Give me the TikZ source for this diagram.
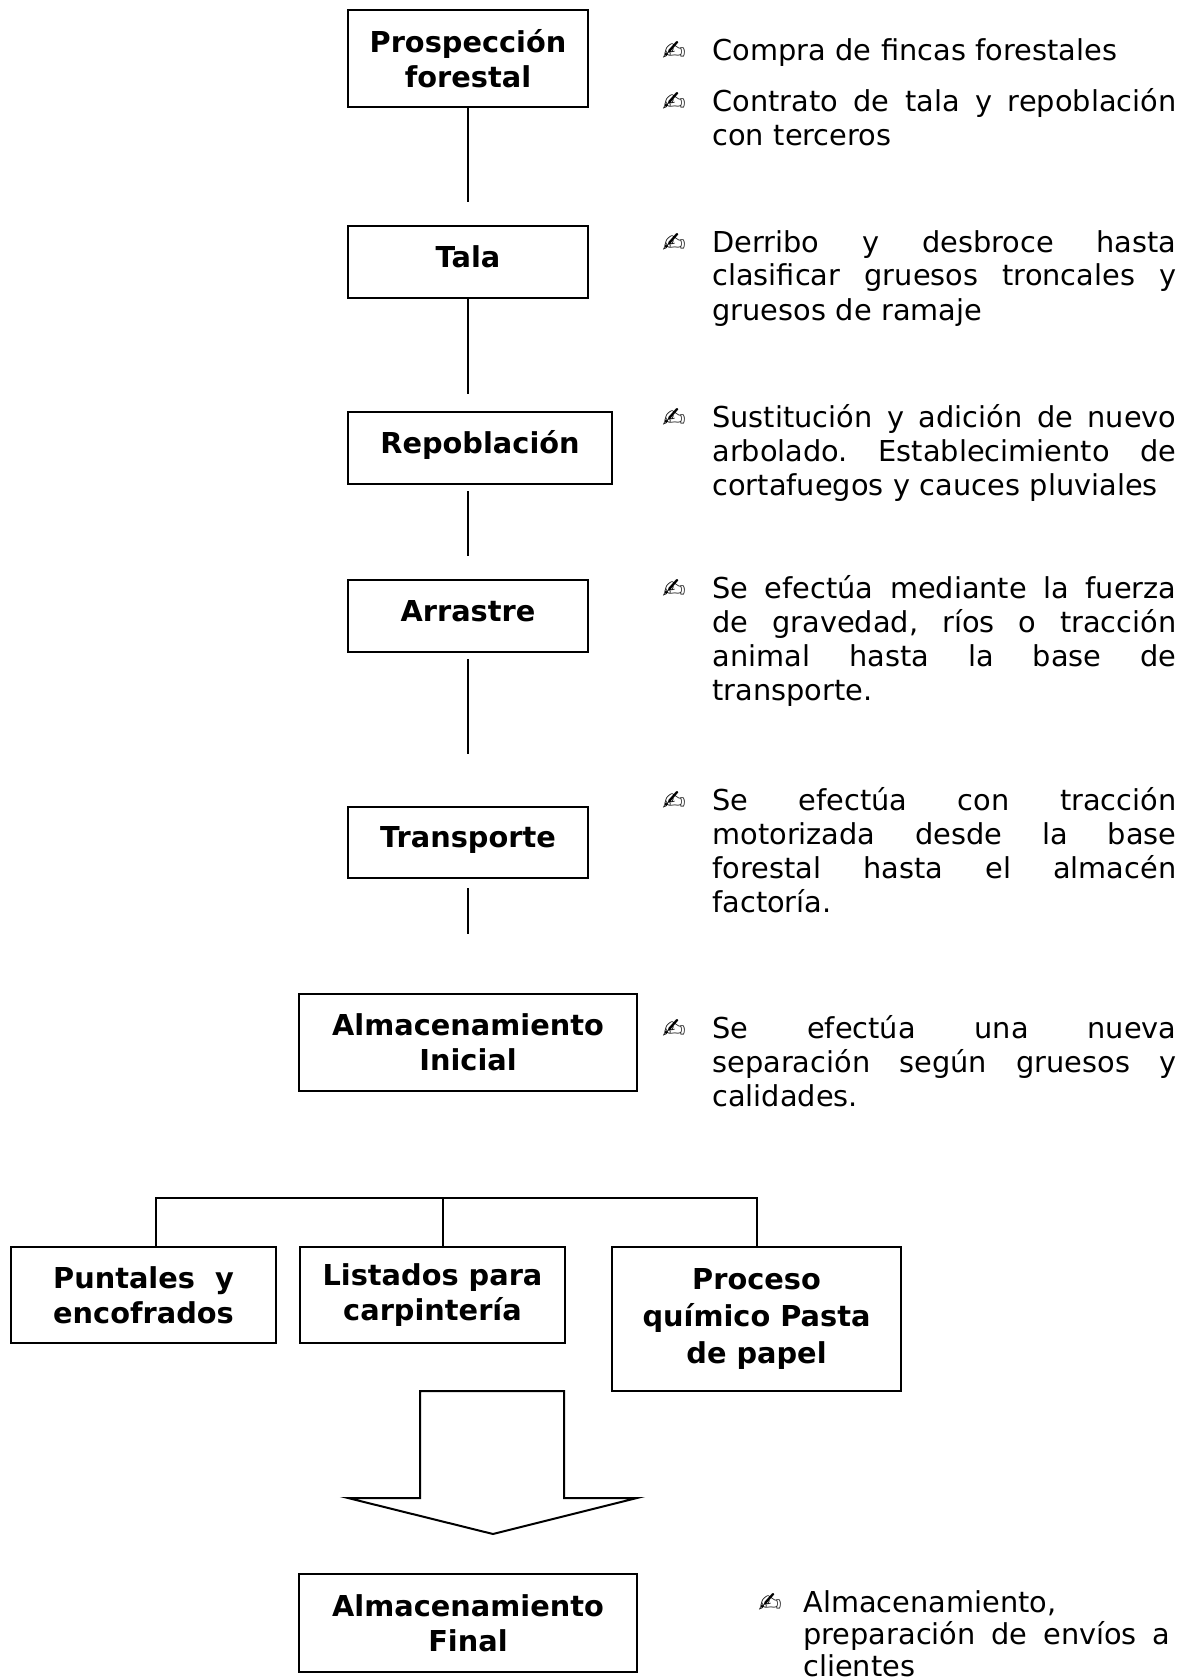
\documentclass[tikz,border=0pt]{standalone}
\usepackage{fontspec}
\setmainfont{DejaVu Sans}
\frenchspacing
\newcommand\jl[1]{\makebox[232pt][s]{\spaceskip=0pt\xspaceskip=0pt\relax #1}}
\newcommand\jlb[1]{\makebox[183.5pt][s]{\spaceskip=0pt\xspaceskip=0pt\relax #1}}
\tikzset{
  box/.style={draw, line width=1pt, fill=white, align=center, inner sep=0pt,
    font=\fontsize{14.4pt}{17.5pt}\bfseries\selectfont},
  onebox/.style={box, minimum width=120pt, minimum height=36pt, text height=11pt, text depth=6pt},
  desc/.style={anchor=base west, text width=232pt, align=left, inner sep=0pt,
    font=\fontsize{14.4pt}{17pt}\selectfont},
  descb/.style={desc, text width=183.5pt, font=\fontsize{14.4pt}{16.1pt}\selectfont},
  bul/.style={anchor=base, inner sep=0pt, font=\fontsize{14pt}{15pt}\selectfont},
  conn/.style={line width=0.9pt},
}
\begin{document}
\begin{tikzpicture}[x=0.5pt, y=-0.5pt]
\useasboundingbox (0,0) rectangle (1189,1680);

% process boxes
\node[box, minimum width=120pt, minimum height=48.5pt] (p1) at (468,58.5) {Prospección\\forestal};
\node[onebox] (tala) at (468,262) {Tala};
\node[onebox, minimum width=132pt] (repo) at (480,448) {Repoblación};
\node[onebox] (arr) at (468,616) {Arrastre};
\node[onebox, minimum height=35.5pt] (trans) at (468,842.5) {Transporte};
\node[box, minimum width=169pt, minimum height=48.5pt] (almi) at (468,1042.5) {Almacenamiento\\Inicial};
\node[box, minimum width=132.5pt, minimum height=48pt] (punt) at (143.5,1295) {Puntales\ \ y\\encofrados};
\node[box, minimum width=132.5pt, minimum height=48pt] (list) at (432.5,1295) {Listados para\\carpintería};
\node[box, minimum width=144.5pt, minimum height=72pt] (proc) at (756.5,1319) {Proceso\\[1pt]químico Pasta\\[1pt]de papel};
\node[box, minimum width=169pt, minimum height=49pt] (almf) at (468,1623) {Almacenamiento\\Final};

% connectors
\draw[conn, shorten >=11.5pt] (p1.south) -- (tala.north);
\draw[conn, shorten >=8.5pt] (tala.south) -- (tala.south |- repo.north);
\draw[conn, shorten <=3pt, shorten >=11.5pt] (arr.north |- repo.south) -- (arr.north);
\draw[conn, shorten <=3pt, shorten >=26pt] (arr.south) -- (trans.north);
\draw[conn, shorten <=4.5pt, shorten >=29.5pt] (trans.south) -- (almi.north);

% branch
\coordinate (bl) at (156,1198);
\coordinate (bm) at (443,1198);
\coordinate (br) at (757,1198);
\draw[conn] (bl |- punt.north) -- (bl) -- (br) -- (br |- proc.north);
\draw[conn] (bm) -- (bm |- list.north);

% big block arrow
\draw[line width=1pt, fill=white] (420,1391) -- (564,1391) -- (564,1498) -- (637,1498)
  -- (493,1534) -- (348,1498) -- (420,1498) -- cycle;

% descriptions
\node[bul] (b1) at (674,61) {✍};
\node[desc] (t1) at (712,61) {Compra de fincas forestales};
\node[bul] (b2) at (674,112) {✍};
\node[desc] (t2) at (712,112) {\jl{Contrato de tala y repoblación}\\con terceros};
\node[bul] (b3) at (674,252) {✍};
\node[desc] (t3) at (712,252) {\jl{Derribo y desbroce hasta}\\\jl{clasificar gruesos troncales y}\\gruesos de ramaje};
\node[bul] (b4) at (674,427) {✍};
\node[desc] (t4) at (712,427) {\jl{Sustitución y adición de nuevo}\\\jl{arbolado. Establecimiento de}\\cortafuegos y cauces pluviales};
\node[bul] (b5) at (674,598) {✍};
\node[desc] (t5) at (712,598) {\jl{Se efectúa mediante la fuerza}\\\jl{de gravedad, ríos o tracción}\\\jl{animal hasta la base de}\\transporte.};
\node[bul] (b6) at (674,810) {✍};
\node[desc] (t6) at (712,810) {\jl{Se efectúa con tracción}\\\jl{motorizada desde la base}\\\jl{forestal hasta el almacén}\\factoría.};
\node[bul] (b7) at (674,1038) {✍};
\node[desc] (t7) at (712,1038) {\jl{Se efectúa una nueva}\\\jl{separación según gruesos y}\\calidades.};
\node[bul] (b8) at (770,1612) {✍};
\node[descb] (t8) at (803,1612) {Almacenamiento,\\\jlb{preparación de envíos a}\\clientes};
\end{tikzpicture}
\end{document}
